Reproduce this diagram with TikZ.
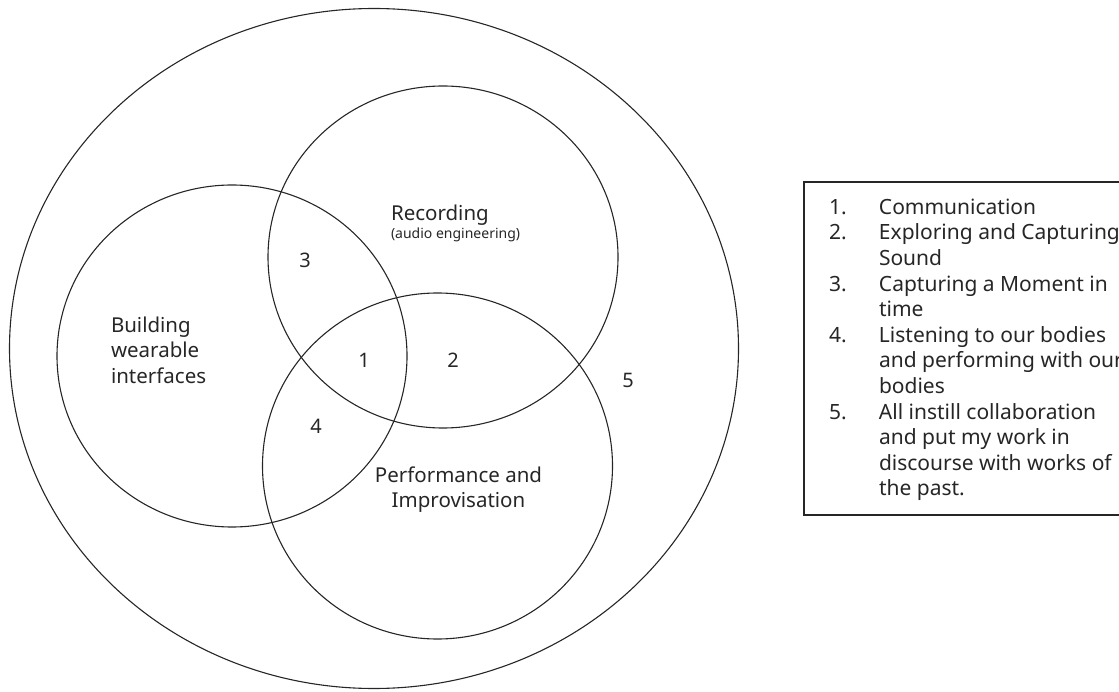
\documentclass[tikz,border=0pt]{standalone}
\usepackage{fontspec}
\setmainfont{Noto Sans}
\begin{document}
\begin{tikzpicture}[x=1pt,y=-1pt,
  ring/.style={draw=black!85, line width=1.1pt},
  lbl/.style={inner sep=0pt, outer sep=0pt, text=black!85, font=\fontsize{20.5}{25.5}\selectfont},
  numlbl/.style={lbl, font=\fontsize{20}{24}\selectfont},
  smalllbl/.style={inner sep=0pt, outer sep=0pt, text=black!85, font=\fontsize{14}{17}\selectfont},
  legendframe/.style={draw=black!85, line width=1.1pt}]
\useasboundingbox (0,0) rectangle (1119,692);
\clip (0,0) rectangle (1119,692);
% circles
\draw[ring] (374,348.5) ellipse [x radius=364.5, y radius=340];
\draw[ring] (443,257) ellipse [x radius=175, y radius=171];
\draw[ring] (232,356) ellipse [x radius=175, y radius=171];
\draw[ring] (437.5,466) ellipse [x radius=175, y radius=173];
% labels
\node[lbl, anchor=base west] (rec) at (391,221) {Recording};
\node[smalllbl, anchor=base west] (audio) at (391,239) {(audio engineering)};
\node[lbl, anchor=north west] (bld) at (111,314.2)
  {\begin{tabular}{@{}l@{}}Building\\wearable\\interfaces\end{tabular}};
\node[lbl, anchor=north] (perf) at (458.5,464.2)
  {\begin{tabular}{@{}c@{}}Performance and\\Improvisation\end{tabular}};
\node[numlbl] (n1) at (364,360) {1};
\node[numlbl] (n2) at (453,360) {2};
\node[numlbl] (n3) at (305,260) {3};
\node[numlbl] (n4) at (316,426) {4};
\node[numlbl] (n5) at (628,380) {5};
% legend
\draw[legendframe] (804,182) rectangle (1140,515);
\node[lbl, font=\fontsize{21}{25.6}\selectfont, anchor=north west] (legend) at (829,196.3)
  {\begin{tabular}{@{}p{50pt}@{}l@{}}
  1. & Communication\\
  2. & Exploring and Capturing\\
     & Sound\\
  3. & Capturing a Moment in\\
     & time\\
  4. & Listening to our bodies\\
     & and performing with our\\
     & bodies\\
  5. & All instill collaboration\\
     & and put my work in\\
     & discourse with works of\\
     & the past.
  \end{tabular}};
\end{tikzpicture}
\end{document}
